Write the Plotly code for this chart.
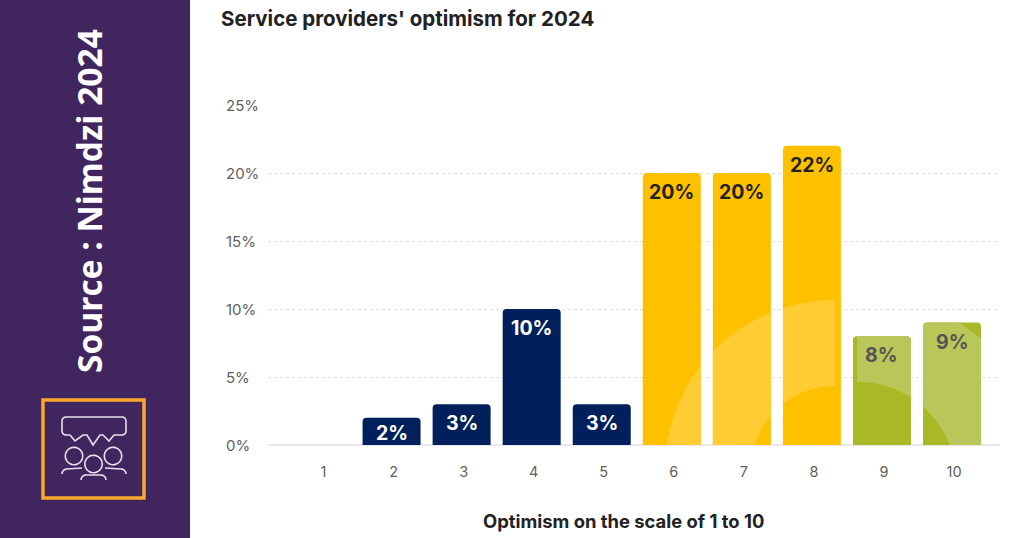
import numpy as np
import plotly.graph_objects as go

# Survey results
scores = [1, 2, 3, 4, 5, 6, 7, 8, 9, 10]
shares = [0, 2, 3, 10, 3, 20, 20, 22, 8, 9]
share_labels = ["", "2%", "3%", "10%", "3%", "20%", "20%", "22%", "8%", "9%"]
y_ticks = [0, 5, 10, 15, 20, 25]
y_tick_labels = ["0%", "5%", "10%", "15%", "20%", "25%"]

NAVY, AMBER, OLIVE = "#00205B", "#FFC000", "#A8B826"
bar_colors = [NAVY] * 5 + [AMBER] * 3 + [OLIVE] * 2
label_colors = ["#FFFFFF"] * 5 + ["#222222"] * 3 + ["#555555"] * 2

title_text = "Service providers' optimism for 2024"
x_title_text = "Optimism on the scale of 1 to 10"
side_text = "Source : Nimdzi 2024"

W, H = 1024, 538
FONT = "Inter, sans-serif"

# Plot frame in pixels
LEFT, RIGHT, ZERO_Y, TOP_Y = 268, 1000, 445, 105
FIRST_BAR_X, STEP = 321.5, 70.06
BAR_W = 58
CORNER = 4


def px(x):
    return x / W


def py(y):
    return 1 - y / H


def bar_x(score):
    return FIRST_BAR_X + (score - 1) * STEP


def bar_top(value):
    return ZERO_Y - value * (ZERO_Y - TOP_Y) / 25


def path(points, closed=False):
    body = " L ".join(f"{px(x):.5f},{py(y):.5f}" for x, y in points)
    return "M " + body + (" Z" if closed else "")


def arc(cx, cy, r, a0, a1, n=40):
    angles = np.radians(np.linspace(a0, a1, n))
    return [(cx + r * np.cos(a), cy + r * np.sin(a)) for a in angles]


def ring_on_bar(score, value, cx, cy, r_in, r_out, x_min, x_max=1e9):
    """Part of a decorative ring that falls inside one rounded bar."""
    x0, x1 = bar_x(score) - BAR_W / 2, bar_x(score) + BAR_W / 2
    top = bar_top(value)
    xs = np.linspace(max(x0, x_min), min(x1, x_max), 80)

    def edge(x):
        d = np.maximum(0, np.maximum(x0 + CORNER - x, x - (x1 - CORNER)))
        return top + CORNER - np.sqrt(np.maximum(0, CORNER**2 - d**2))

    outer = cy - np.sqrt(np.maximum(0, r_out**2 - (xs - cx) ** 2))
    outer = np.where(np.abs(xs - cx) >= r_out, ZERO_Y, outer)
    inner = cy - np.sqrt(np.maximum(0, r_in**2 - (xs - cx) ** 2))
    inner = np.where(np.abs(xs - cx) >= r_in, ZERO_Y, inner)
    upper = np.minimum(np.maximum(outer, edge(xs)), ZERO_Y)
    lower = np.minimum(inner, ZERO_Y)
    return list(zip(xs, upper)) + list(zip(xs[::-1], lower[::-1]))


fig = go.Figure(
    go.Bar(
        x=scores,
        y=shares,
        marker=dict(color=bar_colors, line=dict(width=0), cornerradius=CORNER),
        hoverinfo="skip",
    )
)

shapes = []

# Side panel and its framed icon
shapes.append(dict(type="rect", xref="paper", yref="paper", layer="below",
                   x0=0, x1=px(190), y0=0, y1=1,
                   fillcolor="#41255E", line_width=0))
shapes.append(dict(type="rect", xref="paper", yref="paper",
                   x0=px(43), x1=px(144), y0=py(498), y1=py(400),
                   line=dict(color="#F9A92B", width=3.5)))

ICON = dict(color="#E6E1EC", width=1.6)
bubble = (
    [(66, 417)] + [(122, 417)] + arc(122, 421, 4, -90, 0, 8)
    + [(126, 431)] + arc(122, 431, 4, 0, 90, 8)
    + [(118, 435), (114, 435), (109, 441), (103, 435), (100, 435),
       (93, 445), (87, 435), (83, 435), (75, 441), (70, 435)]
    + arc(66, 431, 4, 90, 180, 8)
    + [(62, 421)] + arc(66, 421, 4, 180, 270, 8)
)
shapes.append(dict(type="path", xref="paper", yref="paper",
                   path=path(bubble), line=ICON))
for cx, cy in [(74, 456), (113, 456), (93.5, 464)]:
    shapes.append(dict(type="path", xref="paper", yref="paper",
                       path=path(arc(cx, cy, 8.7, 0, 360), closed=True), line=ICON))
shoulders = [
    arc(67, 474, 5, 180, 270, 8) + [(82, 468)],
    [(105, 468)] + arc(121, 474, 5, -90, 0, 8),
    arc(86, 480, 5, 180, 270, 8) + [(101, 475)] + arc(101, 480, 5, -90, 0, 8),
]
for pts in shoulders:
    shapes.append(dict(type="path", xref="paper", yref="paper",
                       path=path(pts), line=ICON))

# Lighter rings laid over the amber and olive bars
for i in (5, 6, 7):
    shapes.append(dict(type="path", xref="paper", yref="paper", line_width=0,
                       fillcolor="#FFCC33",
                       path=path(ring_on_bar(scores[i], shares[i], 835, 470, 84, 170, 0, 835),
                                 closed=True)))
for i in (8, 9):
    shapes.append(dict(type="path", xref="paper", yref="paper", line_width=0,
                       fillcolor="#B9C65A",
                       path=path(ring_on_bar(scores[i], shares[i], 858, 480, 98, 187, 857),
                                 closed=True)))

annotations = [
    dict(text=f"<b>{title_text}</b>", xref="paper", yref="paper", x=px(219), y=py(19),
         xanchor="left", yanchor="middle", showarrow=False,
         font=dict(family=FONT, size=20.5, color="#222222")),
    dict(text=f"<b>{x_title_text}</b>", xref="paper", yref="paper", x=px(623), y=py(521),
         xanchor="center", yanchor="middle", showarrow=False,
         font=dict(family=FONT, size=18.4, color="#222222")),
    dict(text=f"<b>{side_text}</b>", xref="paper", yref="paper", x=px(89), y=py(201),
         xanchor="center", yanchor="middle", showarrow=False, textangle=-90,
         font=dict(family="Open Sans, sans-serif", size=33.5, color="#FFFFFF")),
]
for tick, tick_label in zip(y_ticks, y_tick_labels):
    annotations.append(dict(text=tick_label, xref="paper", yref="y", x=px(224), y=tick,
                            xanchor="left", yanchor="middle", showarrow=False,
                            font=dict(family=FONT, size=15, color="#5F5F5F")))
for score, value, label, color in zip(scores, shares, share_labels, label_colors):
    if label:
        drop = min(19, 0.55 * (ZERO_Y - bar_top(value)))
        annotations.append(dict(text=f"<b>{label}</b>", x=score, y=value, yshift=-drop,
                                xanchor="center", yanchor="middle", showarrow=False,
                                font=dict(family=FONT, size=19.5, color=color)))

fig.update_layout(
    width=W,
    height=H,
    margin=dict(l=0, r=0, t=0, b=0),
    paper_bgcolor="#FFFFFF",
    plot_bgcolor="#FFFFFF",
    showlegend=False,
    bargap=1 - BAR_W / STEP,
    shapes=shapes,
    annotations=annotations,
    xaxis=dict(
        domain=[px(LEFT), px(RIGHT)],
        range=[1 - (FIRST_BAR_X - LEFT) / STEP, 1 + (RIGHT - FIRST_BAR_X) / STEP],
        tickmode="array",
        tickvals=scores,
        ticktext=[str(s) for s in scores],
        ticks="outside",
        ticklen=14,
        tickcolor="rgba(0,0,0,0)",
        ticklabelshift=2,
        tickfont=dict(family=FONT, size=14.5, color="#5F5F5F"),
        showgrid=False,
        zeroline=False,
        showline=False,
    ),
    yaxis=dict(
        domain=[py(ZERO_Y), py(TOP_Y)],
        range=[0, 25],
        tickvals=y_ticks,
        showticklabels=False,
        showgrid=True,
        gridcolor="#DEDEDE",
        griddash="dot",
        gridwidth=1,
        zeroline=True,
        zerolinecolor="#E8E8E8",
        zerolinewidth=2,
    ),
)

fig.write_html("out.html", config={"displayModeBar": False})
